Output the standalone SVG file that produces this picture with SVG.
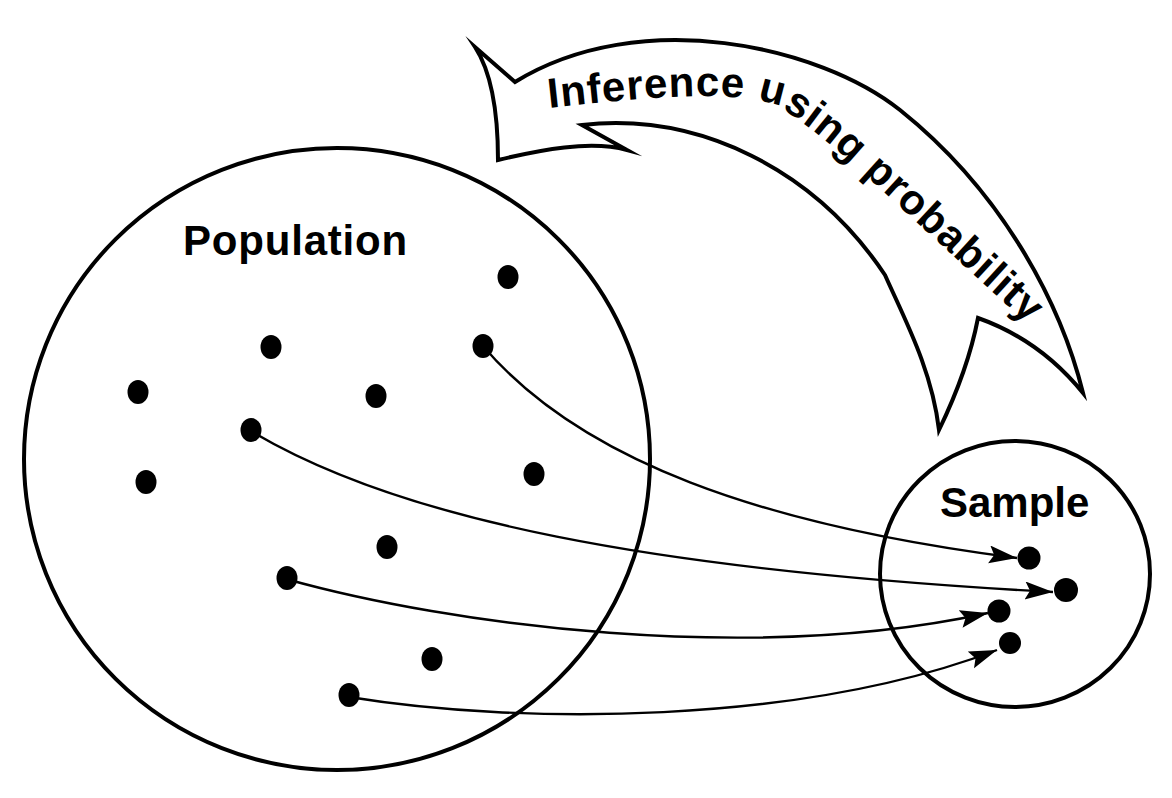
<svg xmlns="http://www.w3.org/2000/svg" width="1172" height="798" viewBox="0 0 1172 798">
  <defs>
    <style>
      .ring { fill: none; stroke: #000; stroke-width: 4; }
      .dot { fill: #000; }
      .conn { fill: none; stroke: #000; stroke-width: 2.4; }
      .lbl { font-family: "Liberation Sans", Arial, sans-serif; font-weight: bold; font-size: 42px; fill: #000; }
      .big { fill: #fff; stroke: #000; stroke-width: 4; stroke-linejoin: miter; stroke-miterlimit: 20; }
    </style>
    <marker id="ah" markerUnits="userSpaceOnUse" markerWidth="30" markerHeight="20" refX="28" refY="9" orient="auto">
      <path d="M0,0 L28,9 L0,18 L5,9 Z" fill="#000"/>
    </marker>
    <path id="txtpath" d="M 549 108 C 640 98, 720 90, 770 103 C 820 125, 905 215, 1035 330" fill="none"/>
  </defs>
  <rect width="1172" height="798" fill="#fff"/>

  <g id="inference-arrow">
    <path class="big" d="M 475 47 C 490 70, 498 110, 498 160 C 540 150, 590 140, 627 150 L 582 125 C 700 112, 815 170, 885 275 C 905 320, 932 370, 939 430 Q 968 370, 978 318 Q 1040 340, 1083 393 C 1060 300, 1000 190, 900 110 C 820 46, 640 5, 515 82 Z"/>
    <text class="lbl" letter-spacing="1"><textPath href="#txtpath">Inference using probability</textPath></text>
  </g>

  <g id="population">
    <ellipse class="ring" cx="337" cy="459" rx="313" ry="311"/>
    <text class="lbl" x="183" y="255" letter-spacing="0.8">Population</text>
    <ellipse class="dot" cx="508" cy="277" rx="10.5" ry="12"/>
    <ellipse class="dot" cx="271" cy="347" rx="10.5" ry="12"/>
    <ellipse class="dot" cx="483" cy="346" rx="10.5" ry="12"/>
    <ellipse class="dot" cx="138" cy="392" rx="10.5" ry="12"/>
    <ellipse class="dot" cx="376" cy="396" rx="10.5" ry="12"/>
    <ellipse class="dot" cx="251" cy="430" rx="10.5" ry="12"/>
    <ellipse class="dot" cx="146" cy="482" rx="10.5" ry="12"/>
    <ellipse class="dot" cx="534" cy="474" rx="10.5" ry="12"/>
    <ellipse class="dot" cx="387" cy="547" rx="10.5" ry="12"/>
    <ellipse class="dot" cx="287" cy="578" rx="10.5" ry="12"/>
    <ellipse class="dot" cx="432" cy="659" rx="10.5" ry="12"/>
    <ellipse class="dot" cx="349" cy="695" rx="10.5" ry="12"/>
  </g>

  <g id="sample">
    <ellipse class="ring" cx="1015" cy="574" rx="135" ry="133"/>
    <text class="lbl" x="940" y="517">Sample</text>
    <circle class="dot" cx="1029" cy="558" r="11.5"/>
    <circle class="dot" cx="1066" cy="590" r="12"/>
    <circle class="dot" cx="999" cy="611" r="11.5"/>
    <circle class="dot" cx="1010" cy="643" r="11"/>
  </g>

  <g id="connectors">
    <path class="conn" marker-end="url(#ah)" d="M 483 346 C 580 460, 760 525, 1017 558"/>
    <path class="conn" marker-end="url(#ah)" d="M 251 431 C 400 520, 650 570, 1053 592"/>
    <path class="conn" marker-end="url(#ah)" d="M 286 579 C 450 625, 750 665, 988 613"/>
    <path class="conn" marker-end="url(#ah)" d="M 349 697 C 520 725, 800 725, 997 650"/>
  </g>
</svg>
